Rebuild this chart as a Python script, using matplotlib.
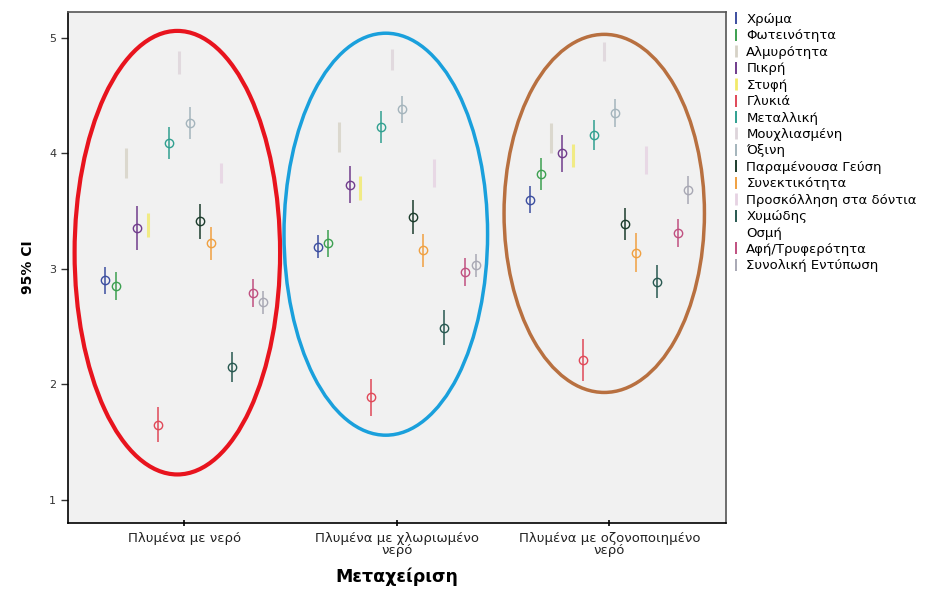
import numpy as np
import matplotlib
matplotlib.use("Agg")
import matplotlib.pyplot as plt
from matplotlib.patches import Ellipse
from matplotlib.lines import Line2D

plt.rcParams['font.family'] = ['DejaVu Sans']

treatments = ["Πλυμένα με νερό", "Πλυμένα με χλωριωμένο\nνερό", "Πλυμένα με οζονοποιημένο\nνερό"]
attributes = ["Χρώμα", "Φωτεινότητα", "Αλμυρότητα", "Πικρή", "Στυφή", "Γλυκιά", "Μεταλλική",
              "Μουχλιασμένη", "Όξινη", "Παραμένουσα Γεύση", "Συνεκτικότητα",
              "Προσκόλληση στα δόντια", "Χυμώδης", "Οσμή", "Αφή/Τρυφερότητα", "Συνολική Εντύπωση"]

# mean scores per treatment (Οσμή not drawn)
mean_water = [2.90, 2.85, 3.92, 3.35, 3.38, 1.65, 4.09, 4.79, 4.26, 3.41, 3.22, 3.83, 2.15, np.nan, 2.79, 2.71]
mean_chlor = [3.19, 3.22, 4.14, 3.73, 3.70, 1.89, 4.23, 4.81, 4.38, 3.45, 3.16, 3.83, 2.49, np.nan, 2.97, 3.03]
mean_ozone = [3.60, 3.82, 4.13, 4.00, 3.98, 2.21, 4.16, 4.88, 4.35, 3.39, 3.14, 3.94, 2.89, np.nan, 3.31, 3.68]

# half width of the 95% CI
ci_water = [0.12, 0.12, 0.13, 0.19, 0.10, 0.15, 0.14, 0.10, 0.14, 0.15, 0.14, 0.09, 0.13, np.nan, 0.12, 0.10]
ci_chlor = [0.10, 0.12, 0.13, 0.16, 0.10, 0.16, 0.14, 0.09, 0.12, 0.15, 0.14, 0.12, 0.15, np.nan, 0.12, 0.10]
ci_ozone = [0.12, 0.14, 0.13, 0.16, 0.10, 0.18, 0.13, 0.08, 0.12, 0.14, 0.17, 0.12, 0.14, np.nan, 0.12, 0.12]

colors = ["#3c4ea0", "#3ca050", "#d6d2c6", "#703c8c", "#f2ea6a", "#e04858", "#30a090", "#ddd4da",
          "#a4b4bc", "#1c3c2c", "#f0a040", "#e6d2e2", "#285850", "#ffffff", "#c05080", "#a8a8b4"]
faint = {2, 4, 7, 11}

means = np.array([mean_water, mean_chlor, mean_ozone])
cis = np.array([ci_water, ci_chlor, ci_ozone])

fig = plt.figure(figsize=(9.46, 5.92), dpi=100)
ax = fig.add_axes([0.072, 0.1166, 0.695, 0.8634])
ax.set_facecolor("#f1f1f1")

step = 0.0495
gx = np.arange(len(treatments))
for i, name in enumerate(attributes):
    x = gx + (i - 7.5) * step
    lw = 2.2 if i in faint else 1.1
    ax.errorbar(x, means[:, i], yerr=cis[:, i], fmt='o', mfc='none', ms=6 if i not in faint else 0,
                mec=colors[i], ecolor=colors[i], elinewidth=lw, capsize=0, mew=1.0,
                alpha=0.8 if i in faint else 1.0)

# highlighted clusters
for cx, cy, w, h, c, lw in [(-0.033, 3.14, 0.967, 3.84, "#e8141e", 3.0),
                             (0.948, 3.30, 0.958, 3.48, "#1aa0dc", 2.5),
                             (1.976, 3.48, 0.943, 3.10, "#b87040", 2.5)]:
    ax.add_patch(Ellipse((cx, cy), w, h, fill=False, edgecolor=c, lw=lw))

ax.set_xlim(-0.547, 2.547)
ax.set_ylim(0.80, 5.225)
ax.set_xticks(gx)
ax.set_xticklabels(treatments, fontsize=9.5, linespacing=0.85, color='#222222')
ax.set_yticks([1, 2, 3, 4, 5])
ax.tick_params(axis='y', labelsize=8, length=5, width=1, colors='#333333', labelcolor='#333333')
ax.tick_params(axis='x', length=5, width=1.2, direction='inout', pad=4)
for s in ["left", "bottom"]:
    ax.spines[s].set_linewidth(1.2)
for s in ["top", "right"]:
    ax.spines[s].set_color("#555555")
    ax.spines[s].set_linewidth(1.2)

ax.set_ylabel("95% CI", fontsize=10, fontweight='bold', labelpad=10)
ax.set_xlabel("Μεταχείριση", fontsize=12.5, fontweight='bold', labelpad=8)

handles = [Line2D([], [], ls='none', marker='|', ms=8, mew=1.4 if i not in faint else 2,
                  color=colors[i]) for i in range(len(attributes))]
fig.legend(handles, attributes, loc='upper left', bbox_to_anchor=(0.768, 0.987),
           frameon=False, fontsize=9.5, handlelength=0.6, handletextpad=0.5,
           labelspacing=0.26, borderaxespad=0)

fig.savefig("out.png", dpi=100, facecolor="white")
